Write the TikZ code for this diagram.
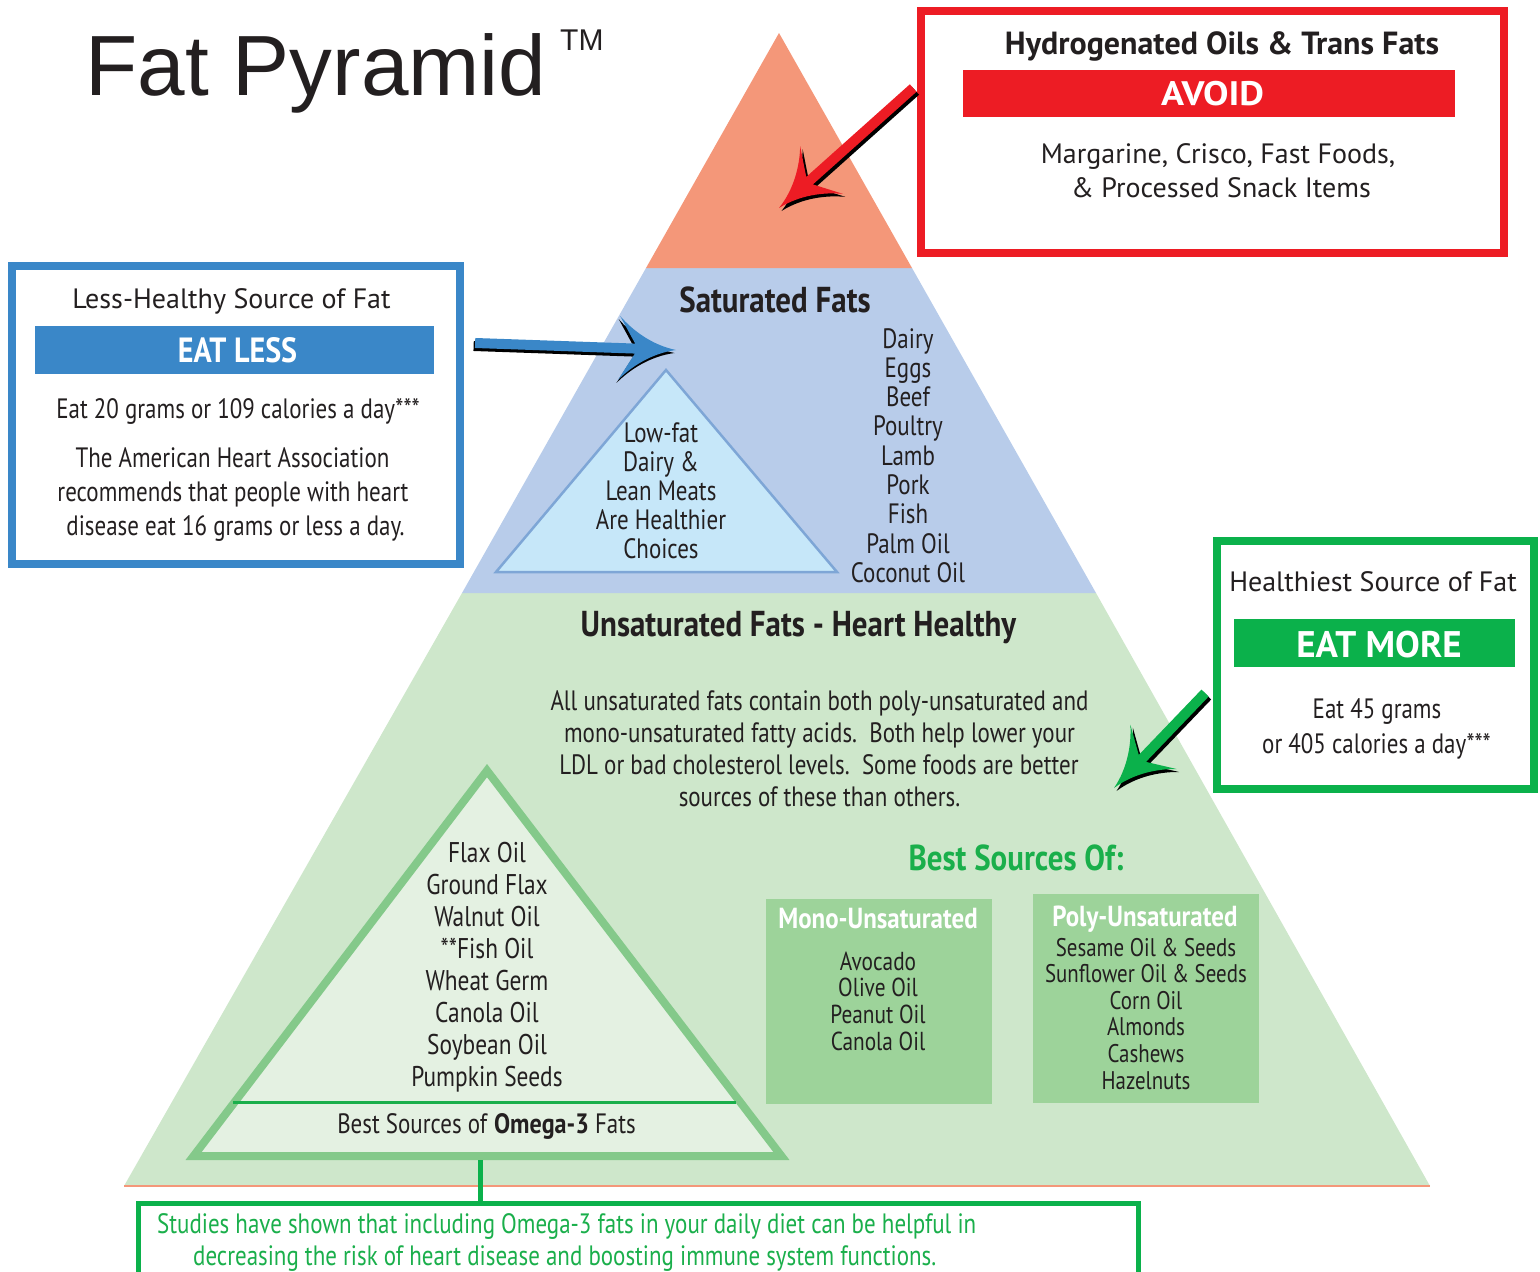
\documentclass[tikz,border=0pt]{standalone}
\usepackage{fontspec}
\setmainfont{PT Sans}
\newfontfamily\condfont{PT Sans}[FakeStretch=0.82, BoldFeatures={FakeStretch=0.86}]
\newfontfamily\widefont{PT Sans}[FakeStretch=1.12]
\newfontfamily\titlefont{Liberation Sans}
\usetikzlibrary{calc}
\definecolor{txt}{HTML}{231F20}
\definecolor{topor}{HTML}{F49779}
\definecolor{satband}{HTML}{B8CCEA}
\definecolor{unsatband}{HTML}{CEE7CB}
\definecolor{lowfat}{HTML}{C6E7F9}
\definecolor{lowfatline}{HTML}{7EA6D6}
\definecolor{omegafill}{HTML}{E4F1E2}
\definecolor{omegaline}{HTML}{84C98A}
\definecolor{srcbox}{HTML}{9DD39A}
\definecolor{avoidred}{HTML}{ED1C24}
\definecolor{lessblue}{HTML}{3A87C8}
\definecolor{moregreen}{HTML}{0BB14B}
\definecolor{bestgreen}{HTML}{1AAF4B}
\tikzset{
  pics/fancyarr/.style={code={
    \path[pic actions] (0,0) .. controls (24,-4) and (44,-18) .. (57,-32) -- (41,-5) -- (#1,-5) -- (#1,5) -- (41,5) -- (57,32) .. controls (44,18) and (24,4) .. (0,0) -- cycle;
  }},
  txtbase/.style={inner sep=0pt, anchor=base, text=txt},
  rg/.style={txtbase, font=\fontsize{#1}{#1}\selectfont},
  rgb/.style={txtbase, font=\bfseries\fontsize{#1}{#1}\selectfont},
  cd/.style={txtbase, font=\condfont\fontsize{#1}{#1}\selectfont},
  cdb/.style={txtbase, font=\condfont\bfseries\fontsize{#1}{#1}\selectfont},
  framebox/.style={draw=#1, line width=8pt, fill=white, inner sep=0pt},
  bandbox/.style={fill=#1, inner sep=0pt},
}
\begin{document}
\begin{tikzpicture}[x=1pt,y=-1pt]
\useasboundingbox (0,0) rectangle (1540,1272);
% ---------- pyramid ----------
\fill[unsatband] (462,593) -- (1096,593) -- (1430,1186) -- (124,1186) -- cycle;
\fill[satband] (646,268) -- (912,268) -- (1096,593) -- (462,593) -- cycle;
\fill[topor] (779,33) -- (912,268) -- (646,268) -- cycle;
\draw[topor, line width=1.5pt] (124,1186) -- (1430,1186);
% low-fat triangle
\filldraw[fill=lowfat, draw=lowfatline, line width=2.5pt] (666,370) -- (837,572) -- (496,572) -- cycle;
% omega triangle
\filldraw[fill=omegafill, draw=omegaline, line width=8pt] (487,770.6) -- (781.4,1156) -- (193.6,1156) -- cycle;
\draw[bestgreen, line width=3pt] (233,1102.5) -- (736,1102.5);
\coordinate (omegabase) at (480,1160);
% ---------- title ----------
\node[txtbase, anchor=base west, font=\titlefont\fontsize{85.5}{85.5}\selectfont] (title) at (85.5,95) {Fat Pyramid};
\node[txtbase, anchor=base west, font=\titlefont\fontsize{30}{30}\selectfont] (tm) at (560,50) {TM};
% ---------- red box ----------
\node[framebox=avoidred, minimum width=583pt, minimum height=242pt] (avoidbox) at (1212.5,132) {};
\node[bandbox=avoidred, minimum width=492pt, minimum height=47pt] (avoidband) at (1209,93.5) {};
\node[rgb=32] (hydro) at (1222,54) {Hydrogenated Oils \& Trans Fats};
\node[txtbase, font=\widefont\bfseries\fontsize{34}{34}\selectfont, text=white] (avoid) at (1212.5,105) {AVOID};
\node[rg=28] (marg) at (1218,163) {Margarine, Crisco, Fast Foods,};
\node[rg=28] (proc) at (1221,197) {\& Processed Snack Items};
% ---------- blue box ----------
\node[framebox=lessblue, minimum width=448pt, minimum height=297.5pt] (lessbox) at (235.5,414.75) {};
\node[bandbox=lessblue, minimum width=399pt, minimum height=47.7pt] (lessband) at (234.5,350) {};
\node[rg=28] (lesshead) at (231.5,308) {Less-Healthy Source of Fat};
\node[cdb=35, text=white] (eatless) at (237.5,362) {EAT LESS};
\node[cd=28] (eat20) at (238,418) {Eat 20 grams or 109 calories a day***};
\node[cd=28] (aha1) at (232.5,467) {The American Heart Association};
\node[cd=28] (aha2) at (233,501) {recommends that people with heart};
\node[cd=28] (aha3) at (235.5,535) {disease eat 16 grams or less a day.};
% ---------- green box ----------
\node[framebox=moregreen, minimum width=317pt, minimum height=247.5pt] (morebox) at (1375.5,664.75) {};
\node[bandbox=moregreen, minimum width=281pt, minimum height=47.7pt] (moreband) at (1374.5,643) {};
\node[rg=28] (morehead) at (1373,591) {Healthiest Source of Fat};
\node[rgb=37, text=white] (eatmore) at (1379,657) {EAT MORE};
\node[cd=28] (eat45) at (1377,718) {Eat 45 grams};
\node[cd=28] (eat405) at (1376.5,753) {or 405 calories a day***};
% ---------- saturated ----------
\node[cdb=36] (sathead) at (775,312) {Saturated Fats};
\foreach \t [count=\i from 0] in {Dairy,Eggs,Beef,Poultry,Lamb,Pork,Fish,Palm Oil,Coconut Oil}
  \node[cd=28] (sat\i) at (908,{348+29.3*\i}) {\t};
\foreach \t [count=\i from 0] in {Low-fat,Dairy \&,Lean Meats,Are Healthier,Choices}
  \node[cd=28] (low\i) at (661,{442+29.1*\i}) {\t};
% ---------- unsaturated ----------
\node[cdb=36] (unsathead) at (798.5,636) {Unsaturated Fats - Heart Healthy};
\node[cd=28] (para1) at (819.5,710) {All unsaturated fats contain both poly-unsaturated and};
\node[cd=28] (para2) at (819.5,742) {mono-unsaturated fatty acids.\ \ Both help lower your};
\node[cd=28] (para3) at (819,774) {LDL or bad cholesterol levels.\ \ Some foods are better};
\node[cd=28] (para4) at (819.5,806) {sources of these than others.};
\node[cdb=36, text=bestgreen] (best) at (1016,870) {Best Sources Of:};
\node[bandbox=srcbox, minimum width=226pt, minimum height=205pt] (monobox) at (879,1001.5) {};
\node[bandbox=srcbox, minimum width=226pt, minimum height=208.7pt] (polybox) at (1145.5,998.35) {};
\node[cdb=29, text=white] (monohead) at (878,928) {Mono-Unsaturated};
\node[cdb=29, text=white] (polyhead) at (1145,926) {Poly-Unsaturated};
\foreach \t [count=\i from 0] in {Avocado,Olive Oil,Peanut Oil,Canola Oil}
  \node[cd=26] (mono\i) at (878,{970+26.7*\i}) {\t};
\foreach \t [count=\i from 0] in {Sesame Oil \& Seeds,Sunflower Oil \& Seeds,Corn Oil,Almonds,Cashews,Hazelnuts}
  \node[cd=25.5] (poly\i) at (1146,{956+26.6*\i}) {\t};
\foreach \t [count=\i from 0] in {Flax Oil,Ground Flax,Walnut Oil,**Fish Oil,Wheat Germ,Canola Oil,Soybean Oil,Pumpkin Seeds}
  \node[cd=28.5] (omega\i) at (487,{862+32*\i}) {\t};
\node[cd=28] (omegalabel) at (486.5,1133) {Best Sources of \textbf{Omega-3} Fats};
% ---------- bottom note ----------
\node[draw=moregreen, line width=5pt, fill=white, inner sep=0pt, minimum width=1000pt, minimum height=87pt] (studybox) at (638.5,1246.5) {};
\draw[moregreen, line width=5pt] (omegabase) -- (omegabase |- studybox.north);
\node[cd=28, text=bestgreen, anchor=base west] (study1) at (157,1233) {Studies have shown that including Omega-3 fats in your daily diet can be helpful in};
\node[cd=28, text=bestgreen, anchor=base west] (study2) at (193,1265) {decreasing the risk of heart disease and boosting immune system functions.};
% ---------- arrows ----------
\coordinate (redtip) at (779,208);
\coordinate (bluetip) at (676,350);
\coordinate (greentip) at (1114,788);
\pic[fill=black, rotate=41.8] at ($(redtip)+(2.5,3)$) {fancyarr=180};
\pic[fill=avoidred, rotate=41.8] at (redtip) {fancyarr=180};
\pic[fill=black, rotate=178] at ($(bluetip)+(-1.5,3)$) {fancyarr=201};
\pic[fill=lessblue, rotate=178] at (bluetip) {fancyarr=201};
\pic[fill=black, rotate=46.2] at ($(greentip)+(2.5,3)$) {fancyarr=131.6};
\pic[fill=moregreen, rotate=46.2] at (greentip) {fancyarr=131.6};
\end{tikzpicture}
\end{document}
